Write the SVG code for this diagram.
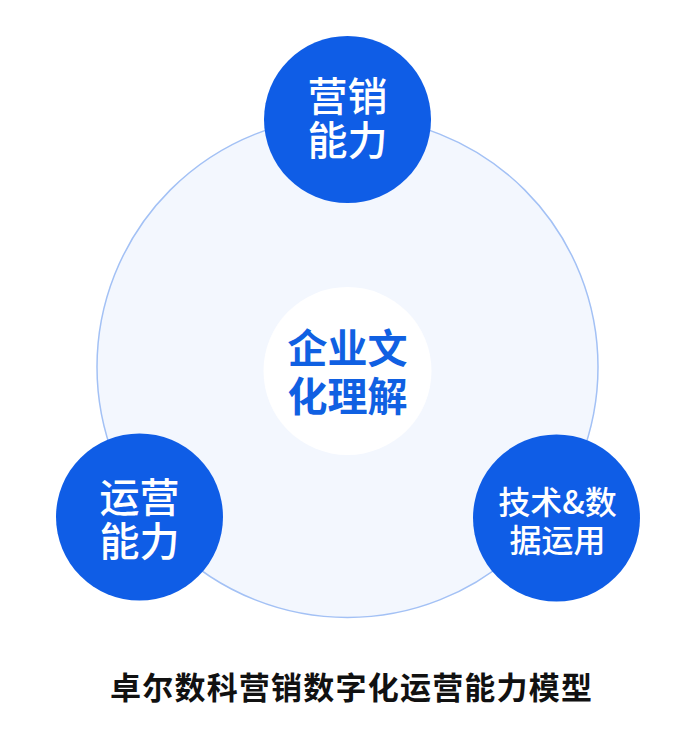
<svg xmlns="http://www.w3.org/2000/svg" width="693" height="744" viewBox="0 0 693 744">
<style>
.node{fill:#0f5de6}
.nt{font-family:"Noto Sans CJK SC","Noto Sans",sans-serif;font-weight:500;fill:#ffffff;text-anchor:middle;dominant-baseline:central}
.ct{font-family:"Noto Sans CJK SC","Noto Sans",sans-serif;font-weight:600;fill:#1060e2;text-anchor:middle;dominant-baseline:central;font-size:40px}
.title{font-family:"Noto Sans CJK SC","Noto Sans",sans-serif;font-weight:700;fill:#111111;text-anchor:middle;dominant-baseline:central;font-size:31px}
</style>
<rect width="693" height="744" fill="#ffffff"/>
<g id="connectors">
<circle cx="347.5" cy="367" r="250.5" fill="#f3f7fe" stroke="#a3c1f5" stroke-width="1.5"/>
</g>
<g id="center">
<circle cx="347.5" cy="371" r="84" fill="#ffffff"/>
<text class="ct" x="347.5" y="346">企业文<tspan x="347.5" dy="48">化理解</tspan></text>
</g>
<g id="marketing">
<circle class="node" cx="347.5" cy="119.5" r="83.5"/>
<text class="nt" x="347.5" y="94" font-size="40">营销<tspan x="347.5" dy="44">能力</tspan></text>
</g>
<g id="operation">
<circle class="node" cx="139.5" cy="517" r="83.5"/>
<text class="nt" x="139.5" y="495" font-size="40">运营<tspan x="139.5" dy="44">能力</tspan></text>
</g>
<g id="tech">
<circle class="node" cx="556.5" cy="518" r="83.5"/>
<text class="nt" x="557.5" y="500" font-size="32">技术&amp;数<tspan x="557.5" dy="38">据运用</tspan></text>
</g>
<g id="caption">
<text class="title" x="351" y="685" textLength="482" lengthAdjust="spacing">卓尔数科营销数字化运营能力模型</text>
</g>
</svg>
